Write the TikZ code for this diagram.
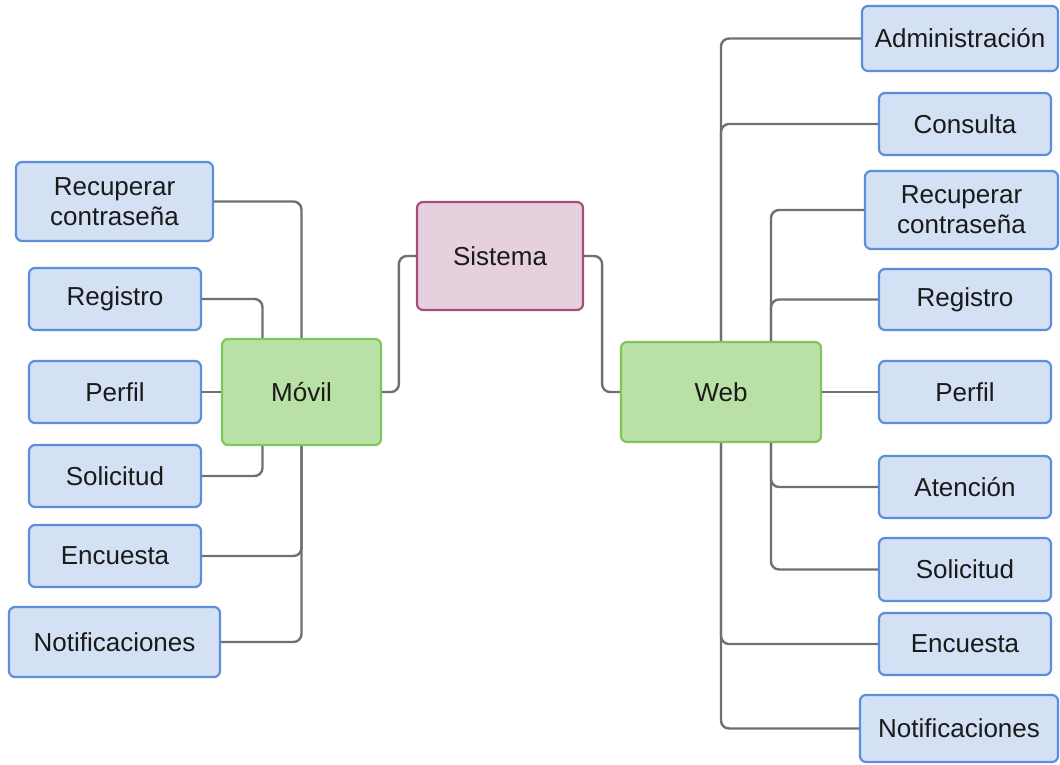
\documentclass[tikz,border=0pt]{standalone}
\usepackage{fontspec}
\setmainfont{Liberation Sans}
\definecolor{bfill}{HTML}{D4E0F3}
\definecolor{bdraw}{HTML}{5B8EDC}
\definecolor{gfill}{HTML}{B9E0A5}
\definecolor{gdraw}{HTML}{7DC858}
\definecolor{pfill}{HTML}{E6D0DE}
\definecolor{pdraw}{HTML}{A64D79}
\definecolor{lgray}{HTML}{707070}
\definecolor{txt}{HTML}{1A1A1A}
\tikzset{
  box/.style={draw, line width=2.2pt, rounded corners=6pt, inner sep=0pt, align=center,
    text=txt, font=\fontsize{26}{30}\selectfont},
  leaf/.style={box, fill=bfill, draw=bdraw},
  mid/.style={box, fill=gfill, draw=gdraw},
  root/.style={box, fill=pfill, draw=pdraw},
  conn/.style={draw=lgray, line width=2.4pt, rounded corners=8pt}
}
\begin{document}
\begin{tikzpicture}[x=1pt,y=-1pt]
\useasboundingbox (0,0) rectangle (1060,764);
% centre nodes
\node[root, minimum width=166pt, minimum height=108pt] (sis) at (500,256) {Sistema};
\node[mid, minimum width=159pt, minimum height=106pt] (mov) at (301.5,392) {Móvil};
\node[mid, minimum width=200pt, minimum height=100pt] (web) at (721,392) {Web};
% left leaves
\node[leaf, minimum width=197pt, minimum height=79pt] (recL) at (114.5,201.5) {Recuperar\\contraseña};
\node[leaf, minimum width=172pt, minimum height=62pt] (regL) at (115,299) {Registro};
\node[leaf, minimum width=172pt, minimum height=62pt] (perL) at (115,392) {Perfil};
\node[leaf, minimum width=172pt, minimum height=62pt] (solL) at (115,476) {Solicitud};
\node[leaf, minimum width=172pt, minimum height=62pt] (encL) at (115,556) {Encuesta};
\node[leaf, minimum width=211pt, minimum height=70pt] (notL) at (114.5,642) {Notificaciones};
% right leaves
\node[leaf, minimum width=196pt, minimum height=65pt] (admR) at (960,38.5) {Administración};
\node[leaf, minimum width=172pt, minimum height=62pt] (conR) at (965,124) {Consulta};
\node[leaf, minimum width=193pt, minimum height=78pt] (recR) at (961.5,210) {Recuperar\\contraseña};
\node[leaf, minimum width=172pt, minimum height=61pt] (regR) at (965,299.5) {Registro};
\node[leaf, minimum width=172pt, minimum height=62pt] (perR) at (965,392) {Perfil};
\node[leaf, minimum width=172pt, minimum height=62pt] (ateR) at (965,487) {Atención};
\node[leaf, minimum width=172pt, minimum height=63pt] (solR) at (965,569.5) {Solicitud};
\node[leaf, minimum width=172pt, minimum height=62pt] (encR) at (965,644) {Encuesta};
\node[leaf, minimum width=198pt, minimum height=67pt] (notR) at (959,728.5) {Notificaciones};
% connectors: root
\draw[conn] (sis.west) -- ++(-17pt,0) |- (mov.east);
\draw[conn] (sis.east) -- ++(18pt,0) |- (web.west);
% connectors: movil
\draw[conn] (recL.east) -| (mov.north);
\draw[conn] (regL.east) -| ([xshift=-39pt]mov.north);
\draw[conn] (perL.east) -- (mov.west);
\draw[conn] (solL.east) -| ([xshift=-39pt]mov.south);
\draw[conn] (encL.east) -| (mov.south);
\draw[conn] (notL.east) -| (mov.south);
% connectors: web
\draw[conn] (web.north) |- (admR.west);
\draw[conn] (web.north) |- (conR.west);
\draw[conn] ([xshift=50pt]web.north) |- (recR.west);
\draw[conn] ([xshift=50pt]web.north) |- (regR.west);
\draw[conn] (web.east) -- (perR.west);
\draw[conn] ([xshift=50pt]web.south) |- (ateR.west);
\draw[conn] ([xshift=50pt]web.south) |- (solR.west);
\draw[conn] (web.south) |- (encR.west);
\draw[conn] (web.south) |- (notR.west);
\end{tikzpicture}
\end{document}
